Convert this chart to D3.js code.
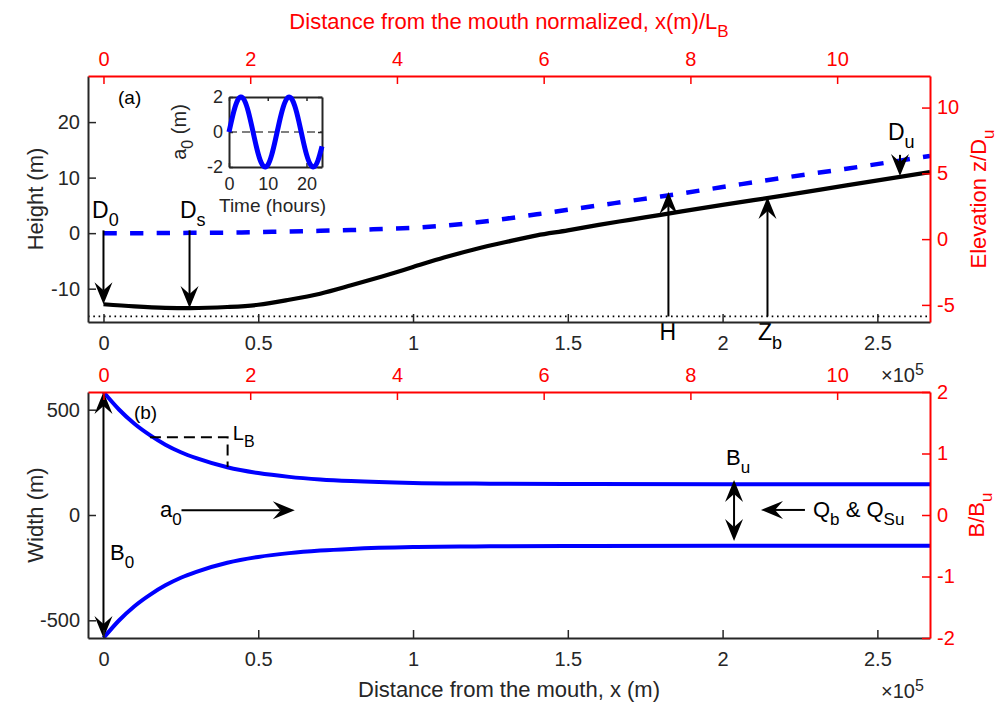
<!DOCTYPE html>
<html>
<head>
<meta charset="utf-8">
<script src="https://cdn.jsdelivr.net/npm/d3@7"></script>
<style>
  body { margin: 0; background: #fff; }
  svg { display: block; font-family: "Liberation Sans", Arial, sans-serif; }
</style>
</head>
<body>
<svg id="chart" width="1006" height="702"></svg>
<script>
// convergence length of the width (m), used for the normalized top axis
const LB = 23700;

// longitudinal profile, panel (a)
const profileX = [0, 10000, 20000, 28000, 40000, 50000, 60000, 70000, 80000, 90000, 100000, 110000,
                  120000, 130000, 140000, 150000, 160000, 170000, 180000, 200000, 220000, 240000, 267000];
const bedZ = [-12.8, -13.2, -13.45, -13.5, -13.3, -12.9, -12.0, -10.9, -9.4, -7.8, -6.1, -4.4,
              -2.9, -1.6, -0.4, 0.5, 1.5, 2.4, 3.3, 5.1, 6.8, 8.6, 11.0];
const surfZ = [0, 0, 0.02, 0.05, 0.1, 0.18, 0.3, 0.42, 0.55, 0.75, 0.95, 1.35,
               1.9, 2.6, 3.4, 4.2, 5.0, 5.8, 6.6, 8.3, 10.0, 11.6, 13.9];
const datumZ = -15;

// half width of the channel, panel (b)
const widthX = [0, 5000, 10000, 15000, 20000, 25000, 30000, 40000, 50000, 60000, 70000, 80000,
                100000, 120000, 150000, 200000, 267000];
const halfWidth = [584, 501, 433, 379, 334, 298, 270, 227, 199, 181, 169, 161, 152, 149, 147, 146, 146];

// tide at the mouth (inset)
const tideT = [0, 1, 2, 3, 4, 5, 6, 7, 8, 9, 10, 11, 12, 13, 14, 15, 16, 17, 18, 19, 20, 21, 22, 23, 24];
const tideA = [0, 0.97, 1.70, 2.0, 1.80, 1.15, 0.21, -0.78, -1.58, -1.97, -1.89, -1.32, -0.42,
               0.58, 1.43, 1.93, 1.94, 1.47, 0.63, -0.37, -1.28, -1.86, -1.98, -1.60, -0.82];

// ticks
const xTicks = [0, 50000, 100000, 150000, 200000, 250000];
const xnTicks = [0, 2, 4, 6, 8, 10];
const heightTicks = [-10, 0, 10, 20];
const elevTicks = [-5, 0, 5, 10];
const widthTicks = [-500, 0, 500];
const ratioTicks = [-2, -1, 0, 1, 2];
const tideTicksY = [-2, 0, 2];
const tideTicksX = [0, 10, 20];

// annotations (data units)
const topArrows = [
  {x1: 0, y1: 0.5, x2: 0, y2: -12.8},
  {x1: 27800, y1: 0.5, x2: 27800, y2: -13.5},
  {x1: 182500, y1: -15, x2: 182500, y2: 7.4},
  {x1: 214500, y1: -15, x2: 214500, y2: 6.5},
  {x1: 257300, y1: 14.1, x2: 257300, y2: 10.3}
];
const topLabels = [
  {x: -3700, y: 2.7, parts: [['D', 0], ['0', 1]], anchor: 'start'},
  {x: 24700, y: 2.7, parts: [['D', 0], ['s', 1]], anchor: 'start'},
  {x: 182300, y: -19.3, parts: [['H', 0]], anchor: 'middle'},
  {x: 211400, y: -19.3, parts: [['Z', 0], ['b', 1]], anchor: 'start'},
  {x: 253400, y: 16.8, parts: [['D', 0], ['u', 1]], anchor: 'start'}
];
const botArrows = [
  {x1: 0, y1: 584, x2: 0, y2: -584, both: true},
  {x1: 25200, y1: 22, x2: 61800, y2: 22},
  {x1: 203700, y1: 166, x2: 203700, y2: -123, both: true},
  {x1: 226600, y1: 24, x2: 212400, y2: 24}
];
const botLabels = [
  {x: 18250, y: -9.5, parts: [['a', 0], ['0', 1]]},
  {x: 2100, y: -214, parts: [['B', 0], ['0', 1]]},
  {x: 201100, y: 237, parts: [['B', 0], ['u', 1]]},
  {x: 229200, y: -9.5, parts: [['Q', 0], ['b', 1], [' & Q', 0], ['Su', 1]]}
];
const lbMarker = [[15000, 369], [40100, 369], [40100, 228]];

const ink = '#262626';
const red = '#ff0000';
const blue = '#0000ff';

const svg = d3.select('#chart');

const x = d3.scaleLinear().domain([-5000, 267000]).range([88, 930]);
const xn = d3.scaleLinear().domain(x.domain().map(d => d / LB)).range([88, 930]);
const yTop = d3.scaleLinear().domain([-16, 28.3]).range([322, 76]);
const yTopR = d3.scaleLinear().domain([-6.3, 12.4]).range([322, 76]);
const yBot = d3.scaleLinear().domain([-584, 584]).range([638, 392]);
const yBotR = d3.scaleLinear().domain([-2, 2]).range([638, 392]);
const tx = d3.scaleLinear().domain([0, 24]).range([229, 322]);
const ty = d3.scaleLinear().domain([-2, 2]).range([167, 97]);

const plain = d => String(d);

// text with sub/superscripts: parts = [[text, level]], level 1 = sub, -1 = super
function rich(g, px, py, parts, size, color, anchor, rotate) {
  const t = g.append('text')
    .attr('fill', color)
    .attr('text-anchor', anchor || 'start')
    .style('font-size', size + 'px');
  if (rotate) t.attr('transform', `translate(${px},${py}) rotate(-90)`);
  else t.attr('x', px).attr('y', py);
  let level = 0;
  parts.forEach(([s, l]) => {
    const fs = l === 0 ? size : Math.round(size * 0.78);
    const dy = (l - level) * size * 0.36;
    t.append('tspan').attr('dy', dy).style('font-size', fs + 'px').text(s);
    level = l;
  });
  return t;
}

function arrowHead(g, tx0, ty0, ang) {
  g.append('path')
    .attr('d', 'M0,0 L-22,-9 L-14,0 L-22,9 Z')
    .attr('transform', `translate(${tx0},${ty0}) rotate(${ang * 180 / Math.PI})`)
    .attr('fill', '#000');
}

function arrow(g, a) {
  const dx = a.px2 - a.px1, dy = a.py2 - a.py1;
  const len = Math.hypot(dx, dy), ux = dx / len, uy = dy / len;
  const s = a.both ? 14 : 0;
  g.append('line')
    .attr('x1', a.px1 + ux * s).attr('y1', a.py1 + uy * s)
    .attr('x2', a.px2 - ux * 14).attr('y2', a.py2 - uy * 14)
    .attr('stroke', '#000').attr('stroke-width', 2);
  arrowHead(g, a.px2, a.py2, Math.atan2(dy, dx));
  if (a.both) arrowHead(g, a.px1, a.py1, Math.atan2(-dy, -dx));
}

function styleAxis(g, color, size) {
  g.attr('font-family', null).attr('font-size', null);
  g.select('path.domain').attr('stroke', color).attr('stroke-width', 2);
  g.selectAll('.tick line').attr('stroke', color).attr('stroke-width', 1.5);
  g.selectAll('.tick text').attr('fill', color).style('font-size', size + 'px');
}

const fmtX = d => String(d / 1e5);

function panelAxes(top, bottom, yL, yR, leftTicks, rightTicks) {
  const g = svg.append('g');
  g.append('g').attr('transform', `translate(0,${bottom})`)
    .call(d3.axisBottom(x).tickValues(xTicks).tickFormat(fmtX).tickSizeInner(-8).tickSizeOuter(0).tickPadding(14))
    .call(s => styleAxis(s, ink, 20));
  g.append('g').attr('transform', 'translate(88,0)')
    .call(d3.axisLeft(yL).tickValues(leftTicks).tickFormat(plain).tickSizeInner(-8).tickSizeOuter(0).tickPadding(8))
    .call(s => styleAxis(s, ink, 20));
  g.append('g').attr('transform', `translate(0,${top})`)
    .call(d3.axisTop(xn).tickValues(xnTicks).tickFormat(plain).tickSizeInner(-8).tickSizeOuter(0).tickPadding(10))
    .call(s => styleAxis(s, red, 20));
  g.append('g').attr('transform', 'translate(930,0)')
    .call(d3.axisRight(yR).tickValues(rightTicks).tickFormat(plain).tickSizeInner(-8).tickSizeOuter(0).tickPadding(7))
    .call(s => styleAxis(s, red, 20));
  // x10^5 multiplier
  rich(g, 881, bottom + 60, [['\u00d710', 0], ['5', -1]], 20, ink, 'start');
}

// clip paths
const defs = svg.append('defs');
defs.append('clipPath').attr('id', 'clipA').append('rect').attr('x', 88).attr('y', 76).attr('width', 842).attr('height', 246);
defs.append('clipPath').attr('id', 'clipB').append('rect').attr('x', 88).attr('y', 392).attr('width', 842).attr('height', 246);

// ---------- panel (a) ----------
const pa = svg.append('g');
const profile = profileX.map((d, i) => ({x: d, bed: bedZ[i], surf: surfZ[i]}));
const plotA = pa.append('g').attr('clip-path', 'url(#clipA)');

plotA.append('path')
  .datum(x.domain())
  .attr('d', d3.line().x(d => x(d)).y(() => yTop(datumZ)))
  .attr('stroke', '#000').attr('stroke-width', 1.8).attr('fill', 'none')
  .attr('stroke-dasharray', '1.6,3.7');

plotA.append('path')
  .datum(profile)
  .attr('d', d3.line().x(d => x(d.x)).y(d => yTop(d.surf)).curve(d3.curveMonotoneX))
  .attr('stroke', blue).attr('stroke-width', 4.5).attr('fill', 'none')
  .attr('stroke-dasharray', '13.3,13.3');

plotA.append('path')
  .datum(profile)
  .attr('d', d3.line().x(d => x(d.x)).y(d => yTop(d.bed)).curve(d3.curveMonotoneX))
  .attr('stroke', '#000').attr('stroke-width', 4.2).attr('fill', 'none');

topArrows.forEach(a => arrow(pa, {px1: x(a.x1), py1: yTop(a.y1), px2: x(a.x2), py2: yTop(a.y2)}));
topLabels.forEach(l => rich(pa, x(l.x), yTop(l.y), l.parts, 23, '#000', l.anchor));
pa.append('text').attr('x', x(4700)).attr('y', yTop(23.2)).style('font-size', '19px').attr('fill', '#000').text('(a)');

panelAxes(76, 322, yTop, yTopR, heightTicks, elevTicks);

// ---------- inset ----------
const ins = svg.append('g');
ins.append('rect').attr('x', 229).attr('y', 97).attr('width', 93).attr('height', 70)
  .attr('fill', '#fff');
ins.append('line').attr('x1', tx(0)).attr('x2', tx(24)).attr('y1', ty(0)).attr('y2', ty(0))
  .attr('stroke', '#000').attr('stroke-width', 1.2).attr('stroke-dasharray', '8,5');
ins.append('g').attr('transform', 'translate(0,167)')
  .call(d3.axisBottom(tx).tickValues(tideTicksX).tickFormat(plain).tickSizeInner(-4).tickSizeOuter(0).tickPadding(10))
  .call(s => styleAxis(s, ink, 18));
ins.append('g').attr('transform', 'translate(229,0)')
  .call(d3.axisLeft(ty).tickValues(tideTicksY).tickFormat(plain).tickSizeInner(-4).tickSizeOuter(0).tickPadding(6))
  .call(s => styleAxis(s, ink, 18));
ins.append('g').attr('transform', 'translate(0,97)')
  .call(d3.axisTop(tx).tickValues(tideTicksX).tickFormat('').tickSizeInner(-4).tickSizeOuter(0))
  .call(s => styleAxis(s, ink, 18));
ins.append('g').attr('transform', 'translate(322,0)')
  .call(d3.axisRight(ty).tickValues(tideTicksY).tickFormat('').tickSizeInner(-4).tickSizeOuter(0))
  .call(s => styleAxis(s, ink, 18));
ins.append('path')
  .datum(tideT.map((t, i) => [t, tideA[i]]))
  .attr('d', d3.line().x(d => tx(d[0])).y(d => ty(d[1])).curve(d3.curveNatural))
  .attr('stroke', blue).attr('stroke-width', 5).attr('fill', 'none');
ins.append('text').attr('x', 272.5).attr('y', 212).attr('text-anchor', 'middle')
  .style('font-size', '19px').attr('fill', ink).text('Time (hours)');
rich(ins, 186, 132, [['a', 0], ['0', 1], [' (m)', 0]], 20, ink, 'middle', true);

// ---------- panel (b) ----------
const pb = svg.append('g');
const plotB = pb.append('g').attr('clip-path', 'url(#clipB)');
const widthPts = widthX.map((d, i) => [d, halfWidth[i]]);
[1, -1].forEach(sign => {
  plotB.append('path')
    .datum(widthPts)
    .attr('d', d3.line().x(d => x(d[0])).y(d => yBot(sign * d[1])).curve(d3.curveMonotoneX))
    .attr('stroke', blue).attr('stroke-width', 4).attr('fill', 'none');
});

pb.append('path')
  .datum(lbMarker)
  .attr('d', d3.line().x(d => x(d[0])).y(d => yBot(d[1])))
  .attr('stroke', '#000').attr('stroke-width', 2).attr('fill', 'none')
  .attr('stroke-dasharray', '11,6');
rich(pb, x(41800), yBot(356), [['L', 0], ['B', 1]], 20, '#000', 'start');

botArrows.forEach(a => arrow(pb, {px1: x(a.x1), py1: yBot(a.y1), px2: x(a.x2), py2: yBot(a.y2), both: a.both}));
botLabels.forEach(l => rich(pb, x(l.x), yBot(l.y), l.parts, 22, '#000', 'start'));
pb.append('text').attr('x', x(9850)).attr('y', yBot(456)).style('font-size', '19px').attr('fill', '#000').text('(b)');

panelAxes(392, 638, yBot, yBotR, widthTicks, ratioTicks);

// ---------- axis titles ----------
svg.append('text').attr('x', 509).attr('y', 29).attr('text-anchor', 'middle')
  .style('font-size', '22px').attr('fill', red)
  .call(t => { t.append('tspan').text('Distance from the mouth normalized, x(m)/L');
               t.append('tspan').attr('dy', 8).style('font-size', '17px').text('B'); });
svg.append('text').attr('x', 509).attr('y', 697).attr('text-anchor', 'middle')
  .style('font-size', '22px').attr('fill', ink).text('Distance from the mouth, x (m)');
rich(svg, 43, 199, [['Height (m)', 0]], 22, ink, 'middle', true);
rich(svg, 43, 515, [['Width (m)', 0]], 22, ink, 'middle', true);
rich(svg, 986, 199, [['Elevation z/D', 0], ['u', 1]], 22, red, 'middle', true);
rich(svg, 984, 515, [['B/B', 0], ['u', 1]], 22, red, 'middle', true);
</script>
</body>
</html>
